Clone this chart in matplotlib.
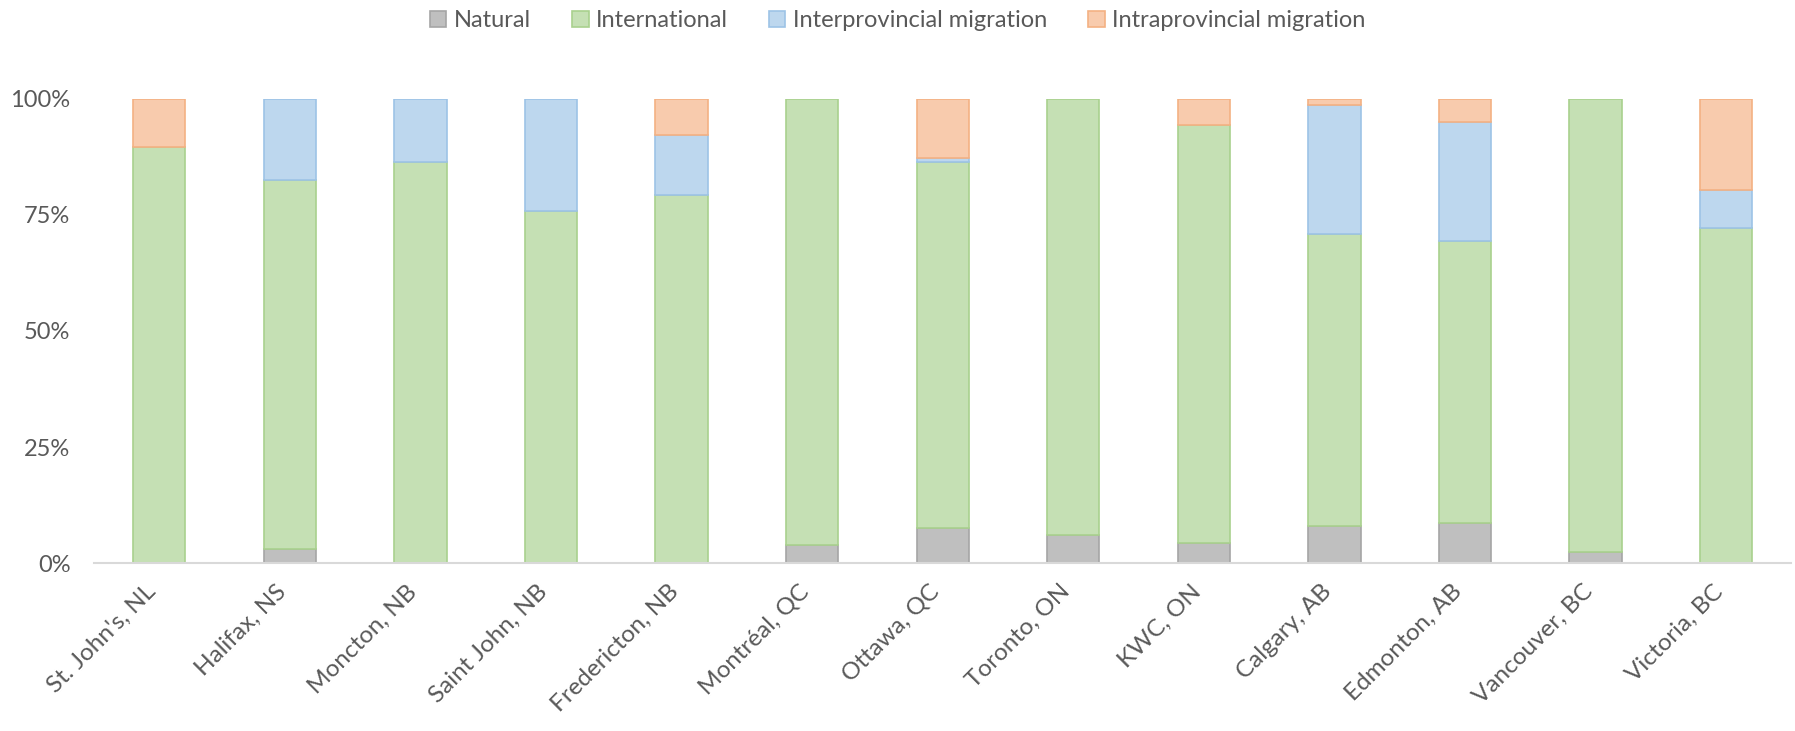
import numpy as np
from matplotlib import pyplot as plt
from matplotlib.ticker import PercentFormatter
import matplotlib.transforms as mtransforms

cities = ["St. John's, NL", "Halifax, NS", "Moncton, NB", "Saint John, NB",
          "Fredericton, NB", "Montréal, QC", "Ottawa, QC", "Toronto, ON",
          "KWC, ON", "Calgary, AB", "Edmonton, AB", "Vancouver, BC",
          "Victoria, BC"]

# shares of population growth, in percent
natural = [0.0, 3.0, 0.0, 0.0, -0.3, 3.8, 7.5, 6.0, 4.3, 7.9, 8.6, 2.3, 0.0]
international = [89.6, 79.6, 86.4, 75.9, 79.4, 96.2, 78.9, 94.0, 90.0, 62.9, 60.9, 97.7, 72.1]
interprovincial = [0.0, 17.4, 13.6, 24.1, 12.9, 0.0, 0.9, 0.0, 0.0, 27.8, 25.5, 0.0, 8.3]
intraprovincial = [10.4, 0.0, 0.0, 0.0, 7.7, 0.0, 12.7, 0.0, 5.7, 1.4, 5.0, 0.0, 19.6]

series = [("Natural", natural, "#BFBFBF", "#A5A5A5"),
          ("International", international, "#C5E0B4", "#A9D18E"),
          ("Interprovincial migration", interprovincial, "#BDD7EE", "#9DC3E6"),
          ("Intraprovincial migration", intraprovincial, "#F8CBAD", "#F4B183")]

plt.rcParams['font.family'] = ['Lato', 'DejaVu Sans']
text_color = "#595959"

fig = plt.figure(figsize=(17.95, 7.31), dpi=100)
ax = fig.add_axes([0.0524, 0.2298, 0.9456, 0.6348])

x = np.arange(len(cities))
pos_base = np.zeros(len(cities))
neg_base = np.zeros(len(cities))
for name, values, face, edge in series:
    v = np.array(values) / 100
    bottom = np.where(v >= 0, pos_base, neg_base)
    keep = v != 0  # Excel draws nothing for empty segments
    ax.bar(x[keep], v[keep], 0.4, bottom=bottom[keep], color=face,
           edgecolor=edge, linewidth=1.2, label=name)
    pos_base = pos_base + np.where(v > 0, v, 0)
    neg_base = neg_base + np.where(v < 0, v, 0)

ax.set_xlim(-0.5, len(cities) - 0.5)
ax.set_ylim(0, 1)
ax.set_yticks([0, 0.25, 0.5, 0.75, 1.0])
ax.yaxis.set_major_formatter(PercentFormatter(1.0, decimals=0))
ax.set_xticks(x)
ax.set_xticklabels(cities, rotation=45, ha='right', rotation_mode='anchor')
ax.tick_params(axis='both', length=0, colors=text_color)
ax.tick_params(axis='x', labelsize=17.5)
ax.tick_params(axis='y', labelsize=17, pad=17)

# shift the slanted labels (after tick_params, which resets transforms)
offset = mtransforms.ScaledTranslation(-0.14, -0.13, fig.dpi_scale_trans)
for lab in ax.get_xticklabels():
    lab.set_transform(lab.get_transform() + offset)

for s in ['top', 'right', 'left']:
    ax.spines[s].set_visible(False)
ax.spines['bottom'].set_color("#D9D9D9")
ax.spines['bottom'].set_linewidth(1.5)

fig.legend(loc='upper center', bbox_to_anchor=(0.5, 1.015), ncol=4,
           frameon=False, fontsize=17, labelcolor=text_color,
           handlelength=0.7, handleheight=0.7, handletextpad=0.3,
           columnspacing=1.75)

plt.savefig("out.png")
